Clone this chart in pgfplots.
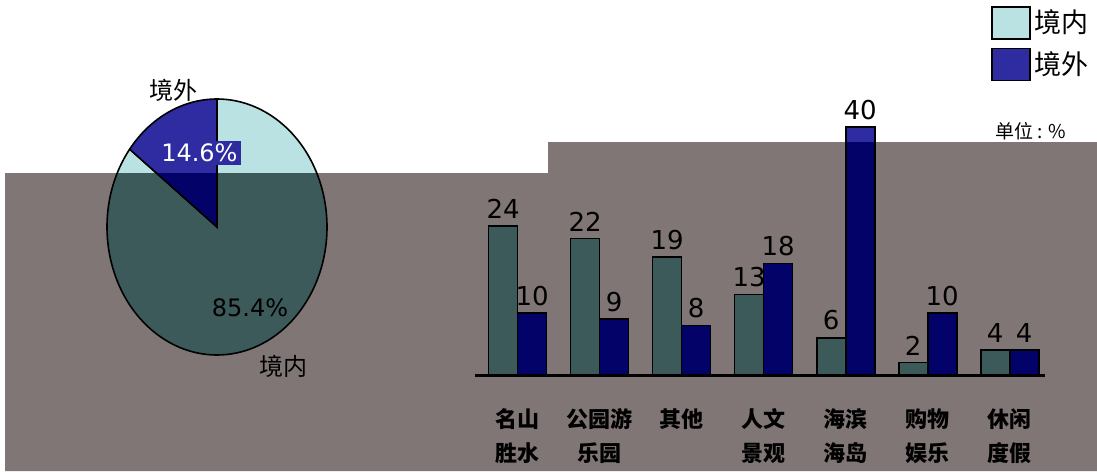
\documentclass[border=0pt]{standalone}
\usepackage{fontspec}
\setmainfont{DejaVu Sans}
\newfontfamily\cjk{Noto Sans CJK SC}
\usepackage{pgfplots}
\pgfplotsset{compat=1.18}
\usepackage{pgfplotstable}
\definecolor{inC}{RGB}{186,226,226}
\definecolor{outC}{RGB}{46,44,160}
\definecolor{inD}{RGB}{60,90,90}
\definecolor{outD}{RGB}{2,2,104}
\definecolor{ovl}{RGB}{128,118,118}
\pgfplotstableread{
x in out
0 24 10
1 22 9
2 19 8
3 13 18
4 6 40
5 2 10
6 4 4
}\bardata
% #1 fill of 境内, #2 fill of 境外
\newcommand\piechart[2]{%
\begin{axis}[at={(108.5pt,-113.5pt)}, anchor=center, scale only axis,
  width=110pt, height=128pt, xmin=-1, xmax=1, ymin=-1, ymax=1,
  hide axis, clip=false]
\filldraw[fill=#1, draw=black, line width=0.8pt] (axis cs:0,0) -- (axis cs:{cos(90+14.6*3.6)},{sin(90+14.6*3.6)})
  arc[start angle={90+14.6*3.6}, end angle=450, x radius=55pt, y radius=64pt] -- cycle;
\filldraw[fill=#2, draw=black, line width=0.8pt] (axis cs:0,0) -- (axis cs:0,1)
  arc[start angle=90, end angle={90+14.6*3.6}, x radius=55pt, y radius=64pt] -- cycle;
\node[font=\cjk\fontsize{12}{13}\selectfont] at (axis cs:-0.4,1.07) {境外};
\node[font=\fontsize{12}{13}\selectfont, text=white, fill=#2, inner sep=1.5pt] at (axis cs:-0.16,0.58) {14.6\%};
\node[font=\fontsize{12}{13}\selectfont] at (axis cs:0.3,-0.63) {85.4\%};
\node[font=\cjk\fontsize{12}{13}\selectfont] at (axis cs:0.6,-1.09) {境内};
\end{axis}}
% #1 fill of 境内, #2 fill of 境外, #3 legend on/off
\newcommand\barchart[3]{%
\begin{axis}[at={(237.5pt,-187.5pt)}, anchor=south west, scale only axis,
  width=285pt, height=124pt,
  xmin=-0.52, xmax=6.43, ymin=0, ymax=40,
  axis x line=bottom, axis y line=none,
  x axis line style={line width=1.5pt, -},
  ytick=\empty,
  xtick=data,
  xticklabels={{名山\\胜水},{公园游\\乐园},{其他},{人文\\景观},{海滨\\海岛},{购物\\娱乐},{休闲\\度假}},
  xtick style={draw=none},
  xticklabel style={font=\cjk\bfseries\fontsize{11}{17}\selectfont, align=center, yshift=-9pt, anchor=north},
  ybar=0pt, bar width=14.5pt,
  nodes near coords,
  every node near coord/.append style={font=\fontsize{13}{13}\selectfont, text=black,
    /pgf/number format/assume math mode=true},
  clip=false,
  legend style={at={(0.905,1.49)}, anchor=north west, draw=none, fill=none,
    font=\cjk\fontsize{13.5}{15}\selectfont, row sep=4pt, inner sep=0pt},
  legend image code/.code={\draw[##1, line width=0.7pt] (0pt,-8pt) rectangle (19pt,8pt);},
]
\addplot[fill=#1, draw=black, line width=0.8pt] table[x=x, y=in] {\bardata};
\addplot[fill=#2, draw=black, line width=0.8pt] table[x=x, y=out] {\bardata};
#3
\end{axis}}
\begin{document}
\begin{tikzpicture}
\begin{scope}[x=0.5pt,y=-0.5pt]
\fill[white] (0,0) rectangle (1097,471);
\end{scope}
\piechart{inC}{outC}
\barchart{inC}{outC}{\legend{境内,境外}
\node[anchor=west, font=\cjk\fontsize{9.5}{10}\selectfont] at (rel axis cs:0.9,0.985) {单位 : \%};}
% the grey region, with the chart drawn again in darker tones inside it
\begin{scope}
\fill[ovl] (2.5pt,-86.5pt) -- (274pt,-86.5pt) -- (274pt,-71pt) -- (548.5pt,-71pt) -- (548.5pt,-235.5pt) -- (2.5pt,-235.5pt) -- cycle;
\clip (2.5pt,-86.5pt) -- (274pt,-86.5pt) -- (274pt,-71pt) -- (548.5pt,-71pt) -- (548.5pt,-235.5pt) -- (2.5pt,-235.5pt) -- cycle;
\piechart{inD}{outD}
\barchart{inD}{outD}{}
\end{scope}
\end{tikzpicture}
\end{document}
